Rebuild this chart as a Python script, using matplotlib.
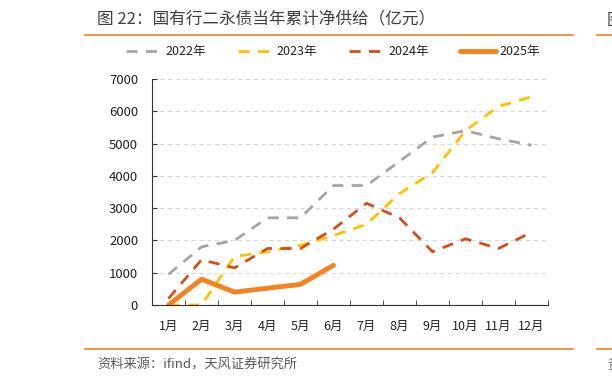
import matplotlib
matplotlib.use("Agg")
import matplotlib.pyplot as plt
from matplotlib.lines import Line2D
import numpy as np

plt.rcParams['font.family'] = ['Noto Sans CJK SC', 'DejaVu Sans']

months = ['1月', '2月', '3月', '4月', '5月', '6月', '7月', '8月', '9月', '10月', '11月', '12月']
y2022 = [950, 1800, 2000, 2700, 2700, 3700, 3700, 4450, 5200, 5400, 5150, 4950]
y2023 = [0, 0, 1500, 1650, 1850, 2150, 2500, 3450, 4100, 5400, 6150, 6450]
y2024 = [200, 1400, 1150, 1750, 1750, 2350, 3150, 2700, 1650, 2050, 1750, 2250]
y2025 = [0, 800, 400, 520, 640, 1230]
yticks = [0, 1000, 2000, 3000, 4000, 5000, 6000, 7000]

title = '图 22：国有行二永债当年累计净供给（亿元）'
source = '资料来源：ifind，天风证券研究所'

c22 = '#A5A5A5'
c23 = '#FFC000'
c24 = '#D24E1C'
c25 = '#F5821F'

W, H = 612, 384
fig = plt.figure(figsize=(6.12, 3.84), dpi=100)
ax = fig.add_axes([152/W, 1-305/H, 396/W, 226/H])

x = np.arange(len(months))
ax.plot(x, y2022, color=c22, lw=2, dashes=(4, 3), label='2022年')
ax.plot(x, y2023, color=c23, lw=2, dashes=(4, 3), label='2023年')
ax.plot(x, y2024, color=c24, lw=2, dashes=(4, 3), label='2024年')
ax.plot(x[:len(y2025)], y2025, color=c25, lw=3.5, solid_capstyle='round', label='2025年')

ax.set_xlim(-0.5, len(months)-0.5)
ax.set_ylim(0, 7000)
ax.set_yticks(yticks)
ax.set_yticklabels([str(v) for v in yticks], fontsize=9.5, color='#222222')
ax.set_xticks(x)
ax.set_xticklabels(months, fontsize=9, color='#222222')
ax.set_xticks(np.arange(-0.5, len(months), 1), minor=True)
ax.tick_params(axis='x', which='major', length=0, pad=11)
ax.tick_params(axis='x', which='minor', length=3.5, direction='in', color='#333333')
ax.tick_params(axis='y', length=3.5, direction='in', color='#333333', pad=10)
ax.grid(axis='y', color='#D9D9D9', lw=0.8, dashes=(4, 3))
ax.set_axisbelow(True)
for s in ['top', 'right']:
    ax.spines[s].set_visible(False)
ax.spines['left'].set_color('#333333')
ax.spines['bottom'].set_color('#333333')

leg = fig.legend(loc='center', bbox_to_anchor=(333/W, 1-52/H), ncol=4, frameon=False,
                 fontsize=9, handlelength=2.9, columnspacing=2.5, handletextpad=0.25)
for t in leg.get_texts():
    t.set_color('#222222')

fig.text(97/W, 1-20/H, title, fontsize=12, color='#404040', va='center', ha='left')
fig.add_artist(Line2D([85/W, 573/W], [1-35/H, 1-35/H], color='#F5821F', lw=1.2))
fig.add_artist(Line2D([85/W, 573/W], [1-349/H, 1-349/H], color='#F5821F', lw=1.2))
fig.text(97/W, 1-365/H, source, fontsize=9.5, color='#595959', va='center', ha='left')

# fragments of neighbouring panel at the right edge
fig.add_artist(Line2D([597/W, 1.0], [1-35/H, 1-35/H], color='#F5821F', lw=1.2))
fig.add_artist(Line2D([597/W, 1.0], [1-349/H, 1-349/H], color='#F5821F', lw=1.2))
fig.text(607/W, 1-20/H, '图', fontsize=12, color='#404040', va='center', ha='left')
fig.text(607/W, 1-365/H, '资', fontsize=9.5, color='#595959', va='center', ha='left')

fig.savefig('out.png', dpi=100)
